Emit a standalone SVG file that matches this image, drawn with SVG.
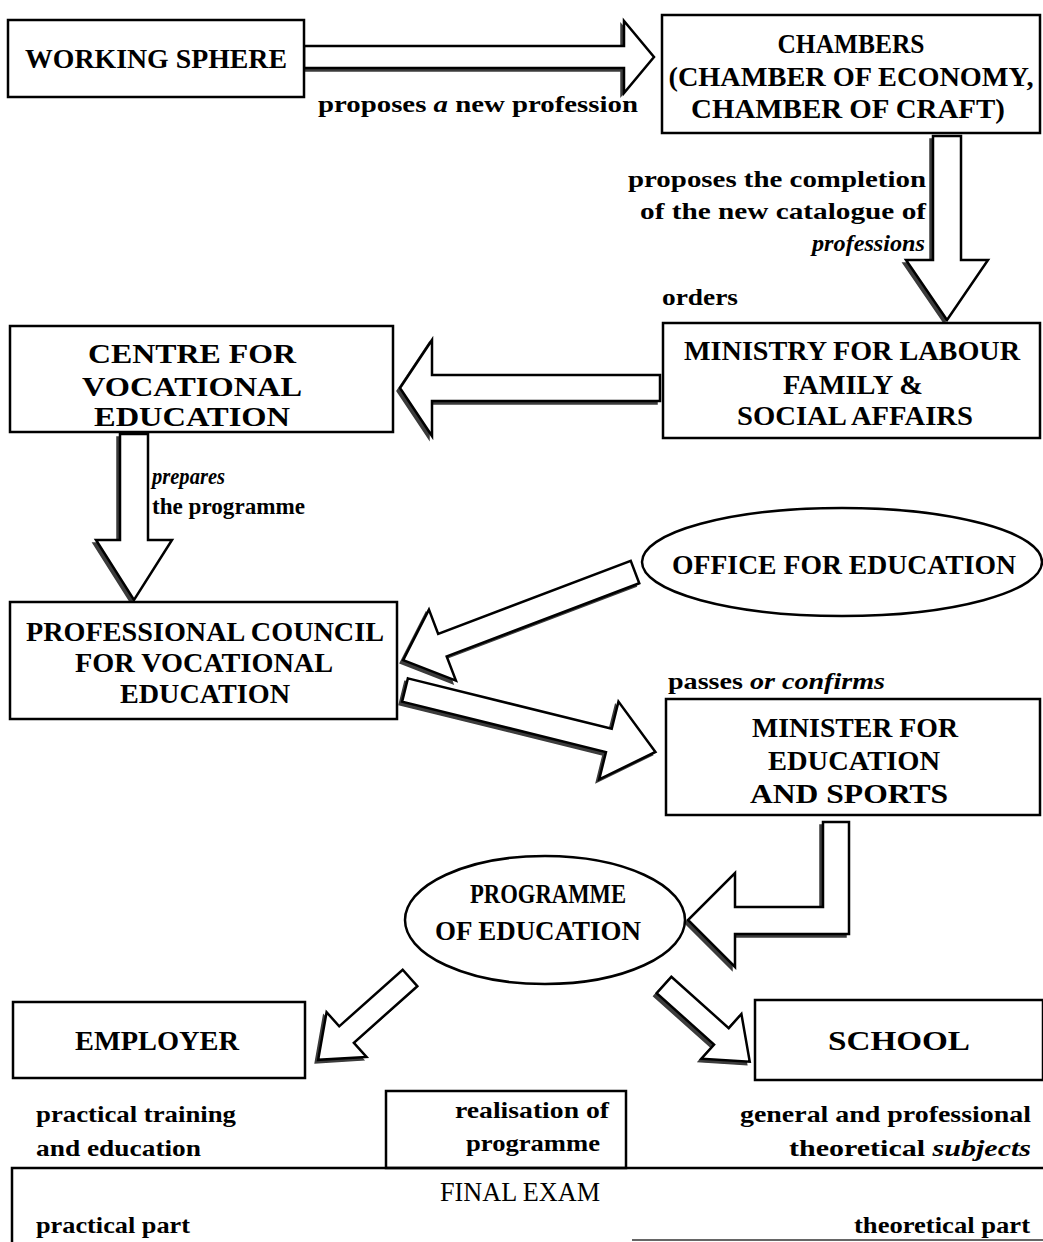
<svg xmlns="http://www.w3.org/2000/svg" width="1043" height="1242" viewBox="0 0 1043 1242">
  <style>
    .box { fill: #fff; stroke: #000; stroke-width: 2.5; }
    .ell { fill: #fff; stroke: #000; stroke-width: 2.5; }
    .arr { fill: #fff; stroke: #000; stroke-width: 2.5; stroke-linejoin: miter; }
    .sh  { fill: #3c3c3c; stroke: #3c3c3c; stroke-width: 1.5; }
    .t   { font-family: "Liberation Serif", "Times New Roman", serif; font-weight: bold; fill: #000; }
    .cap { font-size: 28px; text-anchor: middle; }
    .lbl { font-size: 24px; }
    .reg { font-weight: normal; }
    .it  { font-style: italic; }
  </style>
  <rect width="1043" height="1242" fill="#fff"/>

  <!-- block arrows: dark copy shifted down-left, white arrow on top -->
  <g id="connectors">
    <g id="c-ws-chambers">
      <path class="sh" transform="translate(-3,3) translate(304,57)" d="M0,-11 H320 V-36 L350,0 L320,36 V11 H0 Z"/>
      <path class="arr" transform="translate(304,57)" d="M0,-11 H320 V-36 L350,0 L320,36 V11 H0 Z"/>
    </g>
    <g id="c-chambers-ministry">
      <path class="sh" transform="translate(-3,3) translate(947,136) rotate(90)" d="M0,-14 H124 V-41 L184,0 L124,41 V14 H0 Z"/>
      <path class="arr" transform="translate(947,136) rotate(90)" d="M0,-14 H124 V-41 L184,0 L124,41 V14 H0 Z"/>
    </g>
    <g id="c-ministry-centre">
      <path class="sh" transform="translate(-3,3) translate(660,388) rotate(180)" d="M0,-13 H228 V-48 L260,0 L228,48 V13 H0 Z"/>
      <path class="arr" transform="translate(660,388) rotate(180)" d="M0,-13 H228 V-48 L260,0 L228,48 V13 H0 Z"/>
    </g>
    <g id="c-centre-council">
      <path class="sh" transform="translate(-3,3) translate(134,434) rotate(90)" d="M0,-14 H106 V-38 L166,0 L106,38 V14 H0 Z"/>
      <path class="arr" transform="translate(134,434) rotate(90)" d="M0,-14 H106 V-38 L166,0 L106,38 V14 H0 Z"/>
    </g>
    <g id="c-office-council">
      <path class="sh" transform="translate(-3,3) translate(635,572) rotate(159.2)" d="M0,-12 H206 V-38 L248,0 L206,38 V12 H0 Z"/>
      <path class="arr" transform="translate(635,572) rotate(159.2)" d="M0,-12 H206 V-38 L248,0 L206,38 V12 H0 Z"/>
    </g>
    <g id="c-council-minister">
      <path class="sh" transform="translate(-3,3) translate(405,690) rotate(13.9)" d="M0,-12 H210 V-40 L258,0 L210,40 V12 H0 Z"/>
      <path class="arr" transform="translate(405,690) rotate(13.9)" d="M0,-12 H210 V-40 L258,0 L210,40 V12 H0 Z"/>
    </g>
    <g id="c-minister-programme">
      <path class="sh" transform="translate(-3,3)" d="M823,822 H849 V934 H735 V967 L688,920 L735,873 V907 H823 Z"/>
      <path class="arr" d="M823,822 H849 V934 H735 V967 L688,920 L735,873 V907 H823 Z"/>
    </g>
    <g id="c-programme-employer">
      <path class="sh" transform="translate(-3,3) translate(410,978) rotate(138.3)" d="M0,-11 H85 V-30 L123,0 L85,30 V11 H0 Z"/>
      <path class="arr" transform="translate(410,978) rotate(138.3)" d="M0,-11 H85 V-30 L123,0 L85,30 V11 H0 Z"/>
    </g>
    <g id="c-programme-school">
      <path class="sh" transform="translate(-3,3) translate(664,985) rotate(41.8)" d="M0,-11 H77 V-30 L115,0 L77,30 V11 H0 Z"/>
      <path class="arr" transform="translate(664,985) rotate(41.8)" d="M0,-11 H77 V-30 L115,0 L77,30 V11 H0 Z"/>
    </g>
  </g>

  <!-- connector captions -->
  <g id="captions" class="t lbl">
    <text x="318" y="112" textLength="320" lengthAdjust="spacingAndGlyphs">proposes <tspan class="it">a</tspan> new profession</text>
    <text x="628" y="187" textLength="298" lengthAdjust="spacingAndGlyphs">proposes the completion</text>
    <text x="640" y="219" textLength="286" lengthAdjust="spacingAndGlyphs">of the new catalogue of</text>
    <text x="812" y="251" class="it" textLength="113" lengthAdjust="spacingAndGlyphs">professions</text>
    <text x="662" y="305" textLength="76" lengthAdjust="spacingAndGlyphs">orders</text>
    <text x="152" y="484" class="it" textLength="73" lengthAdjust="spacingAndGlyphs">prepares</text>
    <text x="152" y="514" textLength="153" lengthAdjust="spacingAndGlyphs">the programme</text>
    <text x="668" y="689" textLength="217" lengthAdjust="spacingAndGlyphs">passes <tspan class="it">or confirms</tspan></text>
  </g>

  <g id="n-working-sphere">
    <rect class="box" x="8" y="20" width="296" height="77"/>
    <text class="t cap" x="156" y="68" textLength="262" lengthAdjust="spacingAndGlyphs">WORKING SPHERE</text>
  </g>

  <g id="n-chambers">
    <rect class="box" x="662" y="15" width="378" height="118"/>
    <text class="t cap" x="851" y="53" textLength="147" lengthAdjust="spacingAndGlyphs">CHAMBERS</text>
    <text class="t cap" x="851" y="86" textLength="365" lengthAdjust="spacingAndGlyphs">(CHAMBER OF ECONOMY,</text>
    <text class="t cap" x="848" y="118" textLength="314" lengthAdjust="spacingAndGlyphs">CHAMBER OF CRAFT)</text>
  </g>

  <g id="n-ministry">
    <rect class="box" x="663" y="323" width="377" height="115"/>
    <text class="t cap" x="852" y="360" textLength="336" lengthAdjust="spacingAndGlyphs">MINISTRY FOR LABOUR</text>
    <text class="t cap" x="853" y="394" textLength="140" lengthAdjust="spacingAndGlyphs">FAMILY &amp;</text>
    <text class="t cap" x="855" y="425" textLength="236" lengthAdjust="spacingAndGlyphs">SOCIAL AFFAIRS</text>
  </g>

  <g id="n-centre">
    <rect class="box" x="10" y="326" width="383" height="106"/>
    <text class="t cap" x="192" y="363" font-size="30" textLength="208" lengthAdjust="spacingAndGlyphs">CENTRE FOR</text>
    <text class="t cap" x="192" y="396" font-size="30" textLength="220" lengthAdjust="spacingAndGlyphs">VOCATIONAL</text>
    <text class="t cap" x="192" y="426" font-size="30" textLength="196" lengthAdjust="spacingAndGlyphs">EDUCATION</text>
  </g>

  <g id="n-office">
    <ellipse class="ell" cx="842" cy="562" rx="200" ry="54"/>
    <text class="t cap" x="844" y="574" textLength="344" lengthAdjust="spacingAndGlyphs">OFFICE FOR EDUCATION</text>
  </g>

  <g id="n-council">
    <rect class="box" x="10" y="602" width="387" height="117"/>
    <text class="t cap" x="205" y="641" textLength="358" lengthAdjust="spacingAndGlyphs">PROFESSIONAL COUNCIL</text>
    <text class="t cap" x="204" y="672" textLength="258" lengthAdjust="spacingAndGlyphs">FOR VOCATIONAL</text>
    <text class="t cap" x="205" y="703" textLength="170" lengthAdjust="spacingAndGlyphs">EDUCATION</text>
  </g>

  <g id="n-minister">
    <rect class="box" x="666" y="699" width="374" height="116"/>
    <text class="t cap" x="855" y="737" textLength="206" lengthAdjust="spacingAndGlyphs">MINISTER FOR</text>
    <text class="t cap" x="854" y="770" textLength="172" lengthAdjust="spacingAndGlyphs">EDUCATION</text>
    <text class="t cap" x="849" y="803" textLength="198" lengthAdjust="spacingAndGlyphs">AND SPORTS</text>
  </g>

  <g id="n-programme">
    <ellipse class="ell" cx="545" cy="920" rx="140" ry="64"/>
    <text class="t cap" x="548" y="903" textLength="156" lengthAdjust="spacingAndGlyphs">PROGRAMME</text>
    <text class="t cap" x="538" y="940" textLength="206" lengthAdjust="spacingAndGlyphs">OF EDUCATION</text>
  </g>

  <g id="n-employer">
    <rect class="box" x="13" y="1002" width="292" height="76"/>
    <text class="t cap" x="157" y="1050" font-size="27" textLength="164" lengthAdjust="spacingAndGlyphs">EMPLOYER</text>
  </g>

  <g id="n-school">
    <rect class="box" x="755" y="1000" width="288" height="80"/>
    <text class="t cap" x="899" y="1050" font-size="27" textLength="142" lengthAdjust="spacingAndGlyphs">SCHOOL</text>
  </g>

  <g id="n-employer-notes" class="t lbl">
    <text x="36" y="1122" textLength="200" lengthAdjust="spacingAndGlyphs">practical training</text>
    <text x="36" y="1156" textLength="165" lengthAdjust="spacingAndGlyphs">and education</text>
  </g>

  <g id="n-realisation">
    <rect class="box" x="386" y="1091" width="240" height="77"/>
    <text class="t lbl" x="532" y="1118" text-anchor="middle" textLength="154" lengthAdjust="spacingAndGlyphs">realisation of</text>
    <text class="t lbl" x="533" y="1151" text-anchor="middle" textLength="134" lengthAdjust="spacingAndGlyphs">programme</text>
  </g>

  <g id="n-school-notes" class="t lbl">
    <text x="1031" y="1122" text-anchor="end" textLength="291" lengthAdjust="spacingAndGlyphs">general and professional</text>
    <text x="1031" y="1156" text-anchor="end" textLength="242" lengthAdjust="spacingAndGlyphs">theoretical <tspan class="it">subjects</tspan></text>
  </g>

  <g id="n-final-exam">
    <path d="M12,1242 V1168 H1043" fill="none" stroke="#000" stroke-width="2.5"/>
    <line x1="632" y1="1240" x2="1043" y2="1240" stroke="#666" stroke-width="2"/>
    <text class="t cap reg" x="520" y="1201" font-size="28" textLength="160" lengthAdjust="spacingAndGlyphs">FINAL EXAM</text>
    <text class="t lbl" x="36" y="1233" textLength="154" lengthAdjust="spacingAndGlyphs">practical part</text>
    <text class="t lbl" x="1030" y="1233" text-anchor="end" textLength="176" lengthAdjust="spacingAndGlyphs">theoretical part</text>
  </g>
</svg>
